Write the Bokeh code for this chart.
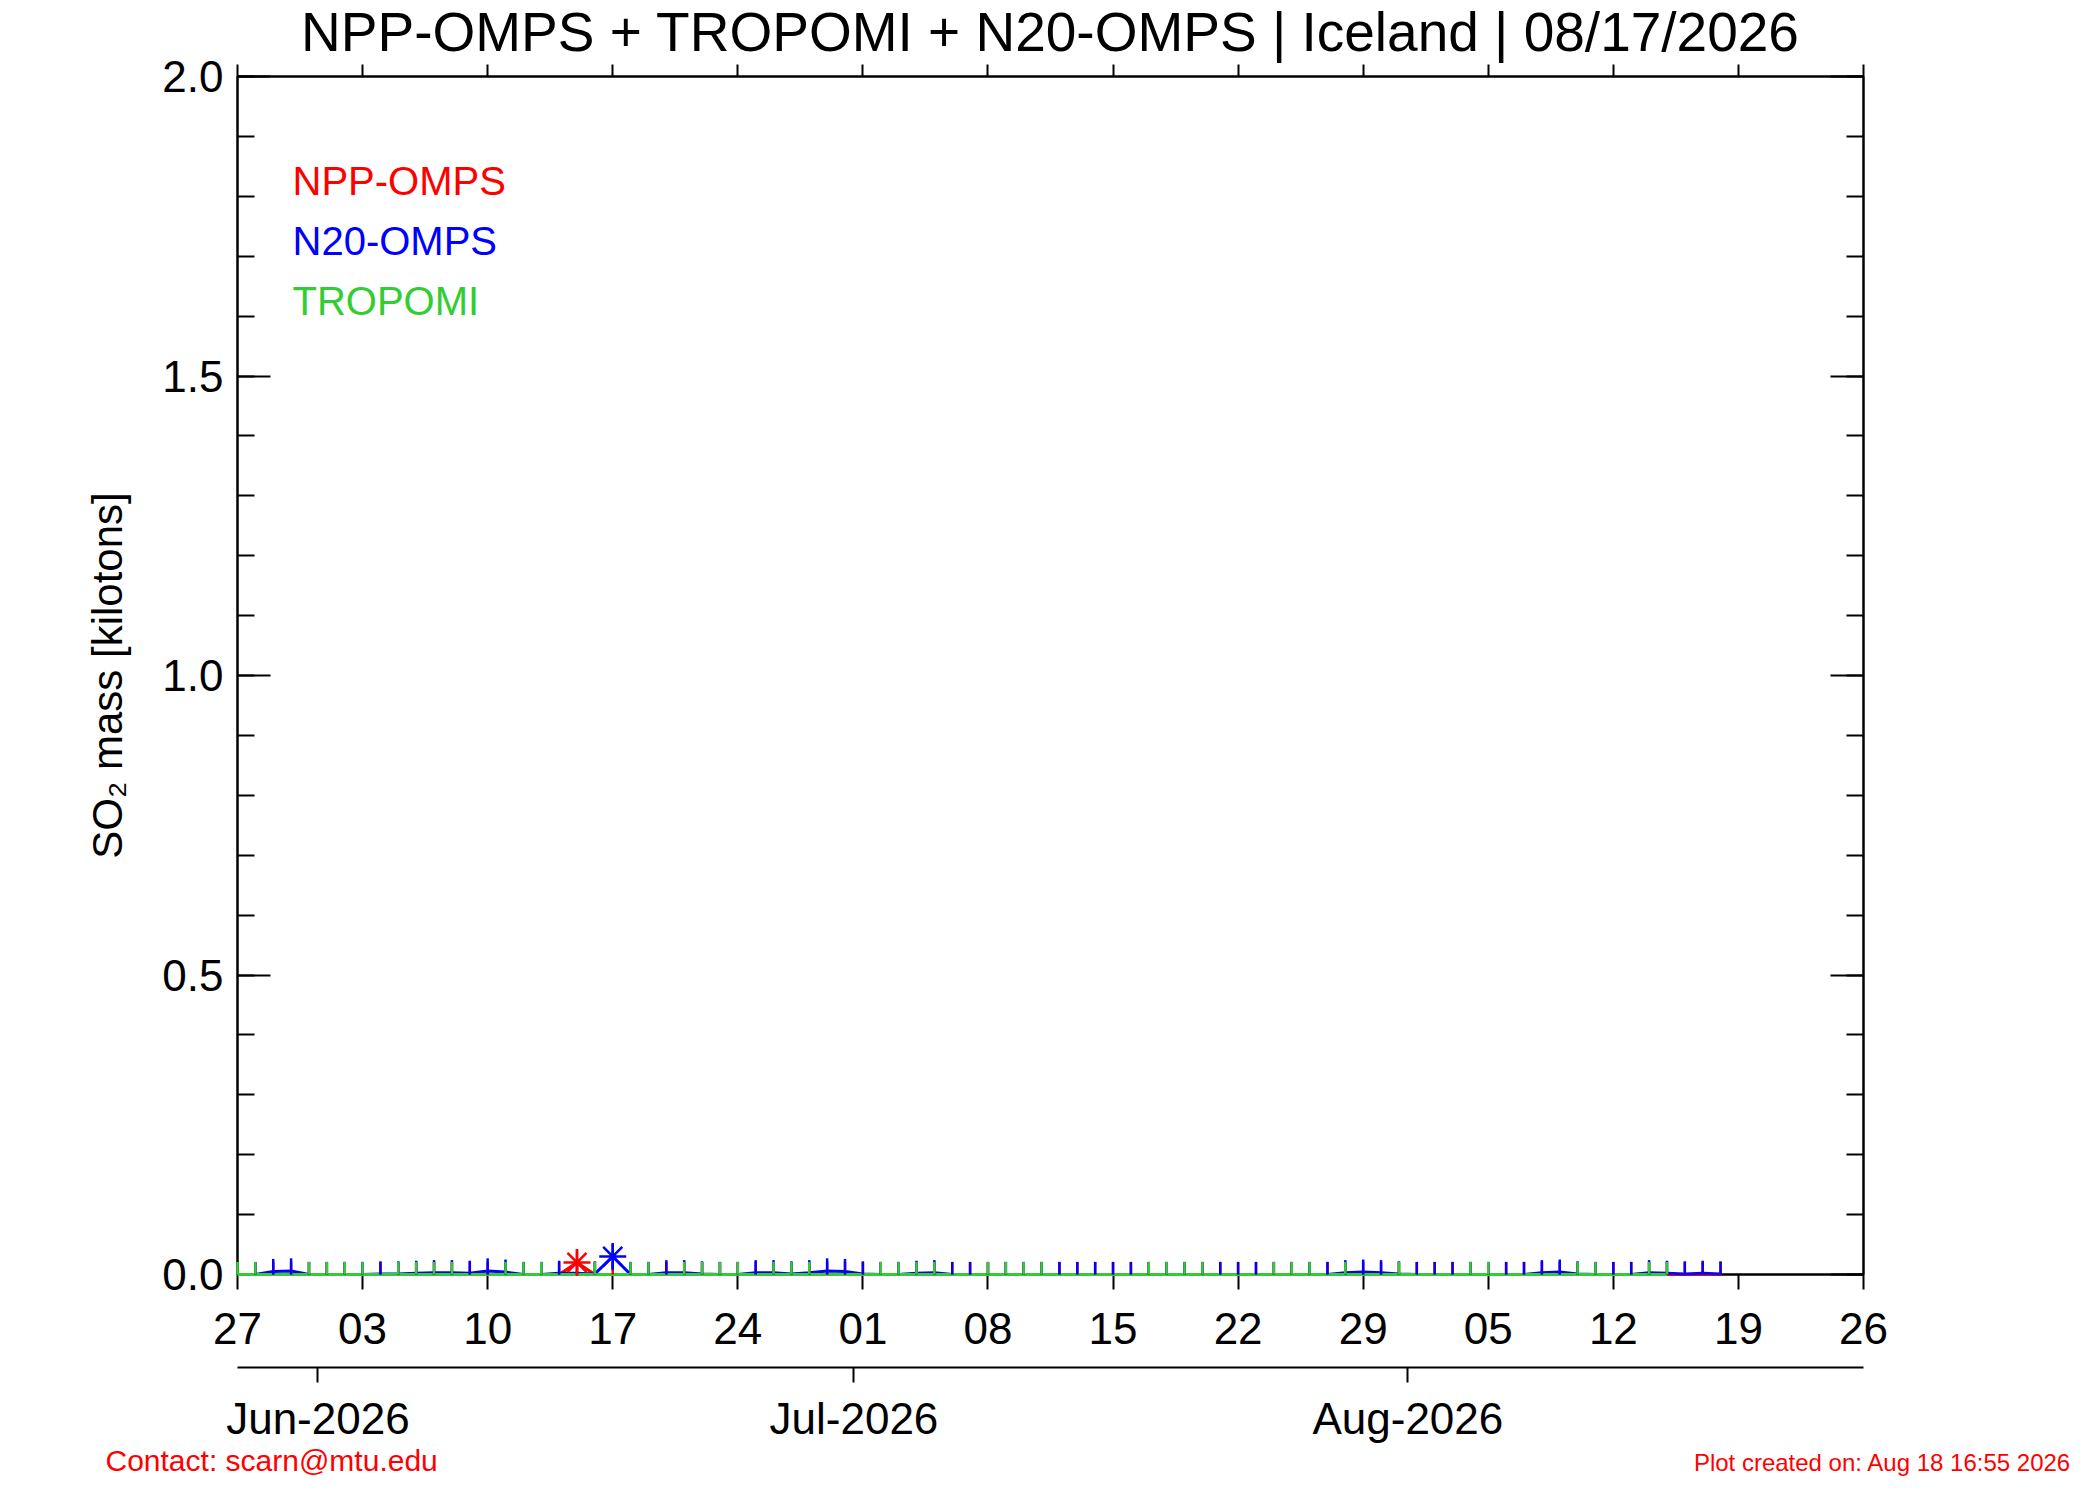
import pandas as pd
from bokeh.plotting import figure
from bokeh.layouts import column
from bokeh.models import (ColumnDataSource, LinearAxis, DatetimeAxis, FixedTicker,
                          DatetimeTickFormatter, SingleIntervalTicker, NumeralTickFormatter,
                          Label, Range1d)
from bokeh.embed import file_html
from bokeh.resources import INLINE

# daily SO2 mass (kilotons), 27 May .. 18 Aug 2026 (values at noon), None = no overpass
days = pd.date_range("2026-05-27 12:00", "2026-08-18 12:00", freq="D")

tropomi = [0.0, 0.0, None, None, 0.0, 0.0, 0.0, 0.0, None, 0.0,
           0.0, 0.0, 0.0, None, None, 0.0, 0.0, 0.0, None, None,
           0.0, None, 0.0, 0.0, None, 0.0, 0.0, 0.0, 0.0, None,
           0.0, 0.0, 0.0, None, None, None, 0.0, 0.0, 0.0, 0.0,
           None, None, 0.0, 0.0, 0.0, 0.0, None, None, None, None,
           None, 0.0, 0.0, 0.0, 0.0, None, None, None, 0.0, 0.0,
           0.0, None, 0.0, None, None, 0.0, None, None, None, 0.0,
           0.0, None, None, None, None, 0.0, 0.0, None, None, 0.0,
           0.0, None, None, None]

n20 = [None, 0.0, 0.005, 0.006, 0.0, 0.0, 0.0, 0.0, 0.001, 0.001,
       0.002, 0.003, 0.003, 0.002, 0.006, 0.004, 0.0, 0.0, 0.002, 0.002,
       0.001, 0.030, 0.0, 0.0, 0.003, 0.003, 0.001, 0.0, 0.0, 0.003,
       0.003, 0.001, 0.003, 0.006, 0.005, 0.001, 0.0, 0.0, 0.002, 0.003,
       0.0, 0.0, 0.0, 0.0, 0.0, 0.0, 0.0, 0.0, 0.0, 0.0,
       0.0, 0.0, 0.0, 0.0, 0.0, 0.0, 0.0, 0.0, 0.0, 0.0,
       0.0, 0.0, 0.003, 0.004, 0.003, 0.001, 0.0, 0.0, 0.0, 0.0,
       0.0, 0.0, 0.0, 0.003, 0.004, 0.001, 0.0, 0.0, 0.0, 0.003,
       0.002, 0.001, 0.002, 0.001]

npp = [None, 0.0, 0.0, 0.0, 0.0, 0.0, 0.0, 0.0, 0.0, 0.0,
       0.0, 0.0, 0.0, 0.0, 0.0, 0.0, 0.0, 0.0, 0.0, 0.020,
       0.0, 0.0, 0.0, 0.0, 0.0, 0.0, 0.0, 0.0, 0.0, 0.0,
       0.0, 0.0, 0.0, 0.0, 0.0, 0.0, 0.0, 0.0, 0.0, 0.0,
       0.0, 0.0, 0.0, 0.0, 0.0, 0.0, 0.0, 0.0, 0.0, 0.0,
       0.0, 0.0, 0.0, 0.0, 0.0, 0.0, 0.0, 0.0, 0.0, 0.0,
       0.0, 0.0, 0.0, 0.0, 0.0, 0.0, 0.0, 0.0, 0.0, 0.0,
       0.0, 0.0, 0.0, 0.0, 0.0, 0.0, 0.0, 0.0, 0.0, 0.0,
       0.0, 0.0, 0.0, 0.0]

# uncertainty on each daily mass (kt)
tropomi_err = 0.021
n20_err = 0.021
npp_err = 0.021

week_ticks = pd.date_range("2026-05-27 12:00", "2026-08-26 12:00", freq="7D")
month_ticks = pd.to_datetime(["2026-06-01", "2026-07-01", "2026-08-01"])

FONT = "Liberation Sans"
RED, BLUE, GREEN = "#ff0000", "#0000ff", "#32cd32"
W = 2084


def make_source(vals, err):
    df = pd.DataFrame({"x": days, "y": vals}).dropna()
    df["lo"] = (df["y"] - err).clip(lower=0)
    df["hi"] = df["y"] + err
    return df


series = [(make_source(npp, npp_err), RED),
          (make_source(n20, n20_err), BLUE),
          (make_source(tropomi, tropomi_err), GREEN)]

p = figure(width=W, height=1445, x_axis_type=None, y_axis_type=None,
           x_range=Range1d(week_ticks[0], week_ticks[-1]),
           y_range=Range1d(0, 2.0),
           min_border_left=237, min_border_right=221, min_border_top=75, min_border_bottom=170,
           output_backend="svg", toolbar_location=None, frame_align=False)
p.outline_line_color = "black"
p.outline_line_width = 2

p.title.text = "NPP-OMPS + TROPOMI + N20-OMPS | Iceland | 08/17/2026"
p.title.align = "center"
p.title.vertical_align = "top"
p.title.standoff = 0
p.title.text_font = FONT
p.title.text_font_size = "55px"
p.title.text_font_style = "normal"
p.title.text_color = "black"

for df, col in series:
    p.line("x", "y", source=ColumnDataSource(df), line_color=col, line_width=3, level="annotation")
for df, col in series:
    p.segment("x", "lo", "x", "hi", source=ColumnDataSource(df), line_color=col,
              line_width=2.5, level="annotation")
for df, col in series[:2]:
    big = df[df["y"] >= 0.015]
    p.scatter("x", "y", source=ColumnDataSource(big), marker="asterisk", size=27,
              line_color=col, line_width=2.5, level="annotation")


def style(ax):
    ax.axis_line_color = "black"
    ax.axis_line_width = 2
    ax.major_tick_line_color = "black"
    ax.major_tick_line_width = 2
    ax.minor_tick_line_color = "black"
    ax.minor_tick_line_width = 2
    ax.major_label_text_font = FONT
    ax.major_label_text_font_size = "44px"
    ax.major_label_text_color = "black"


week_ms = [t.value // 10**6 for t in week_ticks]
month_ms = [t.value // 10**6 for t in month_ticks]

xb = DatetimeAxis(ticker=FixedTicker(ticks=week_ms),
                  formatter=DatetimeTickFormatter(days="%d", months="%d", years="%d"))
style(xb)
xb.major_tick_in, xb.major_tick_out = 0, 15
xb.major_label_standoff = 23
xb.axis_label = " "
xb.axis_label_text_font_size = "1px"
xb.axis_label_standoff = 17
p.add_layout(xb, "below")

xm = DatetimeAxis(ticker=FixedTicker(ticks=month_ms),
                  formatter=DatetimeTickFormatter(days="%b-%Y", months="%b-%Y", years="%b-%Y"))
style(xm)
xm.major_tick_in, xm.major_tick_out = 0, 15
xm.major_label_standoff = 11
p.add_layout(xm, "below")

# top axis: tick marks only, no labels
xt = DatetimeAxis(ticker=FixedTicker(ticks=[], minor_ticks=week_ms))
style(xt)
xt.major_tick_in, xt.major_tick_out = 0, 0
xt.minor_tick_in, xt.minor_tick_out = 0, 12
xt.major_label_standoff = 0
p.add_layout(xt, "above")

yl = LinearAxis(ticker=SingleIntervalTicker(interval=0.5, num_minor_ticks=5),
                formatter=NumeralTickFormatter(format="0.0"))
style(yl)
yl.major_tick_in, yl.major_tick_out = 33, 0
yl.minor_tick_in, yl.minor_tick_out = 17, 0
yl.major_label_standoff = 14
yl.axis_label = "SO\u2082 mass [kilotons]"
yl.axis_label_text_font = FONT
yl.axis_label_text_font_size = "42px"
yl.axis_label_text_font_style = "normal"
yl.axis_label_text_color = "black"
yl.axis_label_standoff = 28
p.add_layout(yl, "left")

yr = LinearAxis(ticker=SingleIntervalTicker(interval=0.5, num_minor_ticks=5))
style(yr)
yr.major_tick_in, yr.major_tick_out = 33, 0
yr.minor_tick_in, yr.minor_tick_out = 17, 0
yr.major_label_text_color = None
p.add_layout(yr, "right")

for y, name, col in [(1094, "NPP-OMPS", RED), (1034, "N20-OMPS", BLUE), (974, "TROPOMI", GREEN)]:
    p.add_layout(Label(x=55, y=y, x_units="screen", y_units="screen", text=name,
                       text_font=FONT, text_font_size="40px", text_color=col,
                       text_baseline="middle"))

# footer strip (pixel coordinates)
foot = figure(width=W, height=39, x_axis_type=None, y_axis_type=None,
              x_range=Range1d(0, W), y_range=Range1d(0, 39), min_border=0,
              output_backend="svg", toolbar_location=None, frame_align=False)
foot.outline_line_color = None
foot.add_layout(Label(x=105, y=24, text="Contact: scarn@mtu.edu", text_font=FONT,
                      text_font_size="30px", text_color=RED, text_baseline="middle"))
foot.add_layout(Label(x=2071, y=22, text="Plot created on: Aug 18 16:55 2026", text_font=FONT,
                      text_font_size="24px", text_color=RED, text_align="right",
                      text_baseline="middle"))

open("out.html", "w").write(file_html(column(p, foot, spacing=0), INLINE))
